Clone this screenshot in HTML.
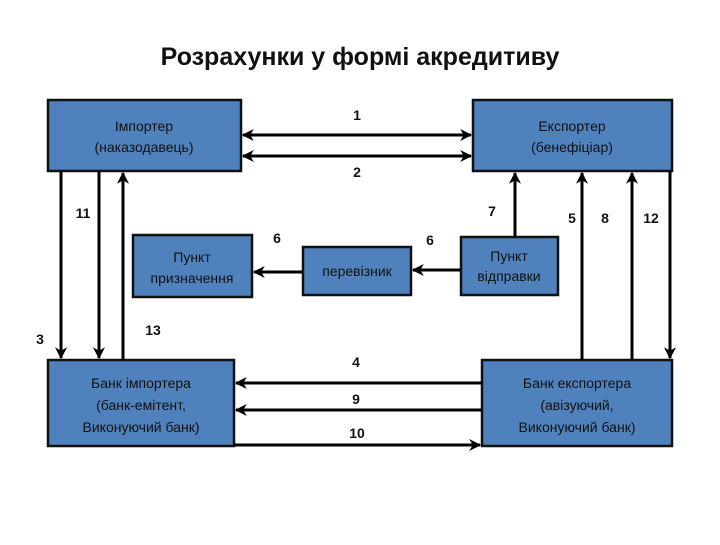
<!DOCTYPE html>
<html><head><meta charset="utf-8"><style>
body{margin:0;width:720px;height:540px;background:#fff;overflow:hidden}
svg{font-family:"Liberation Sans",sans-serif}
.b{fill:#4f81bd;stroke:#111;stroke-width:2.5}
.t{font-size:14px;fill:#111;text-anchor:middle}
.n{font-size:14px;font-weight:bold;fill:#111;text-anchor:middle}
line{stroke:#000;stroke-width:3}
</style></head><body>
<svg width="720" height="540" viewBox="0 0 720 540">
<defs><marker id="a" viewBox="0 0 10 10" refX="9" refY="5" markerWidth="4" markerHeight="4" orient="auto-start-reverse"><path d="M0,0 L10,5 L0,10 L3,5z" fill="#000"/></marker></defs>
<text x="360" y="65" style="font-size:25px;font-weight:bold;text-anchor:middle" fill="#111">Розрахунки у формі акредитиву</text>
<rect class="b" x="48" y="100" width="193" height="71"/>
<text class="t" x="144" y="131">Імпортер</text><text class="t" x="144" y="152">(наказодавець)</text>
<rect class="b" x="473" y="100" width="199" height="71"/>
<text class="t" x="572" y="131">Експортер</text><text class="t" x="572" y="152">(бенефіціар)</text>
<rect class="b" x="133" y="235" width="119" height="62"/>
<text class="t" x="192" y="262">Пункт</text><text class="t" x="192" y="283">призначення</text>
<rect class="b" x="303" y="247" width="108" height="48"/>
<text class="t" x="357" y="276">перевізник</text>
<rect class="b" x="461" y="237" width="97" height="58"/>
<text class="t" x="509" y="261">Пункт</text><text class="t" x="509" y="281">відправки</text>
<rect class="b" x="48" y="360" width="186" height="86"/>
<text class="t" x="141" y="388">Банк імпортера</text><text class="t" x="141" y="410">(банк-емітент,</text><text class="t" x="141" y="432">Виконуючий банк)</text>
<rect class="b" x="482" y="360" width="190" height="86"/>
<text class="t" x="577" y="388">Банк експортера</text><text class="t" x="577" y="410">(авізуючий,</text><text class="t" x="577" y="432">Виконуючий банк)</text>
<line x1="243" y1="135" x2="471" y2="135" marker-start="url(#a)" marker-end="url(#a)"/>
<line x1="243" y1="156" x2="471" y2="156" marker-start="url(#a)" marker-end="url(#a)"/>
<line x1="61" y1="171" x2="61" y2="358" marker-end="url(#a)"/>
<line x1="99" y1="171" x2="99" y2="358" marker-end="url(#a)"/>
<line x1="123" y1="360" x2="123" y2="173" marker-end="url(#a)"/>
<line x1="303" y1="272" x2="254" y2="272" marker-end="url(#a)"/>
<line x1="461" y1="270" x2="413" y2="270" marker-end="url(#a)"/>
<line x1="515" y1="237" x2="515" y2="173" marker-end="url(#a)"/>
<line x1="582" y1="360" x2="582" y2="173" marker-end="url(#a)"/>
<line x1="632" y1="360" x2="632" y2="173" marker-end="url(#a)"/>
<line x1="670" y1="171" x2="670" y2="358" marker-end="url(#a)"/>
<line x1="482" y1="383" x2="236" y2="383" marker-end="url(#a)"/>
<line x1="482" y1="410" x2="236" y2="410" marker-end="url(#a)"/>
<line x1="234" y1="445" x2="480" y2="445" marker-end="url(#a)"/>
<text class="n" x="357" y="120">1</text><text class="n" x="357" y="177">2</text>
<text class="n" x="83" y="218">11</text><text class="n" x="40" y="344">3</text>
<text class="n" x="153" y="335">13</text><text class="n" x="277" y="243">6</text>
<text class="n" x="430" y="245">6</text><text class="n" x="492" y="216">7</text>
<text class="n" x="572" y="223">5</text><text class="n" x="605" y="223">8</text>
<text class="n" x="651" y="223">12</text>
<text class="n" x="356" y="367">4</text><text class="n" x="356" y="404">9</text><text class="n" x="357" y="438">10</text>
</svg>
</body></html>
